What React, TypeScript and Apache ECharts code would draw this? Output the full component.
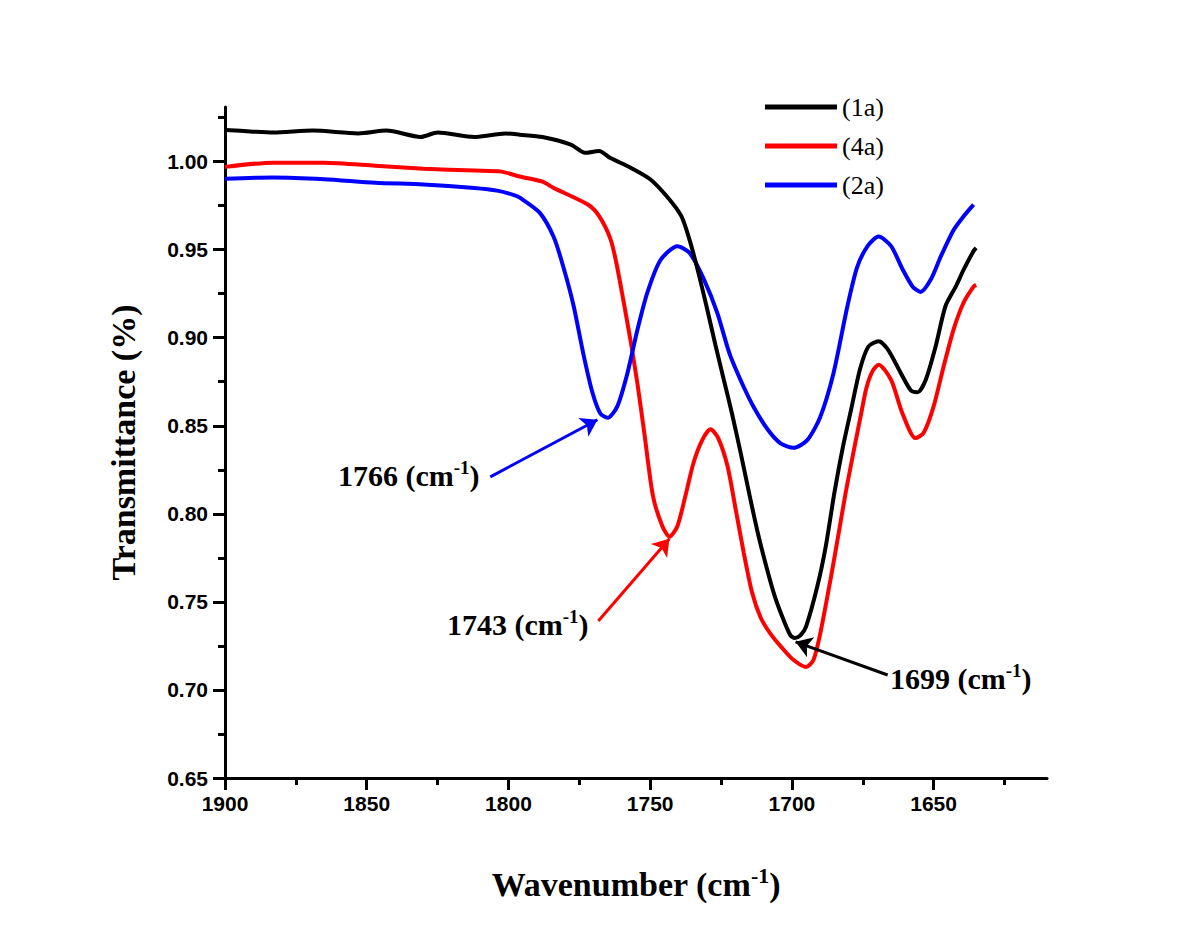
import React, { useEffect, useRef } from "react";
import * as echarts from "echarts";

// ---- Data (wavenumber in cm^-1, transmittance) ----
const wn1a = [1900, 1890, 1883, 1869, 1853, 1843, 1831, 1825, 1812, 1801, 1796, 1788, 1778, 1773, 1768, 1764, 1757, 1750, 1744, 1739, 1736, 1733, 1730, 1727, 1724, 1721, 1718, 1715, 1712, 1709, 1706, 1703, 1700.5, 1699, 1697, 1695, 1691, 1688, 1685, 1682, 1679, 1676, 1673, 1669.4, 1666, 1661.6, 1658, 1655.7, 1652.8, 1649.3, 1645.8, 1642.2, 1639.4, 1636, 1635];
const t1a = [1.018, 1.017, 1.0165, 1.0176, 1.016, 1.0176, 1.014, 1.0165, 1.014, 1.016, 1.0153, 1.014, 1.0097, 1.005, 1.006, 1.002, 0.9966, 0.99, 0.98, 0.969, 0.955, 0.937, 0.917, 0.896, 0.876, 0.856, 0.834, 0.811, 0.789, 0.77, 0.753, 0.74, 0.731, 0.7295, 0.731, 0.736, 0.759, 0.782, 0.812, 0.838, 0.86, 0.882, 0.895, 0.898, 0.893, 0.88, 0.87, 0.869, 0.876, 0.895, 0.918, 0.929, 0.9386, 0.949, 0.951];

const wn4a = [1900, 1883, 1865, 1847, 1830, 1812, 1802.5, 1796, 1788, 1784, 1772, 1768, 1764, 1762, 1759.5, 1757, 1754.5, 1752, 1749, 1745.7, 1743.2, 1740.4, 1737.6, 1734.7, 1731.6, 1728.7, 1726, 1722.7, 1720, 1717, 1714, 1711, 1707.6, 1703, 1699.4, 1695, 1692.4, 1690, 1686.4, 1683.5, 1681.1, 1678.6, 1675.8, 1673.7, 1671.5, 1669.4, 1665, 1661, 1656.4, 1653.5, 1650, 1646.5, 1643, 1639.4, 1635.9, 1635];
const t4a = [0.997, 0.9994, 0.9994, 0.9977, 0.996, 0.9949, 0.9943, 0.9915, 0.9886, 0.985, 0.9756, 0.969, 0.956, 0.943, 0.9216, 0.899, 0.874, 0.845, 0.81, 0.793, 0.787, 0.793, 0.81, 0.829, 0.842, 0.848, 0.843, 0.827, 0.804, 0.778, 0.755, 0.741, 0.732, 0.723, 0.717, 0.713, 0.717, 0.732, 0.7625, 0.789, 0.8114, 0.8324, 0.855, 0.8716, 0.8812, 0.8847, 0.876, 0.857, 0.843, 0.846, 0.861, 0.8835, 0.9045, 0.92, 0.929, 0.93];

const wn2a = [1900, 1883, 1865, 1847, 1830, 1812, 1804, 1798, 1796, 1789, 1784, 1780.6, 1777, 1773.6, 1770.4, 1767.6, 1765, 1761.6, 1758, 1754.5, 1751, 1746.4, 1740.4, 1736, 1731, 1726.3, 1722, 1717, 1713.6, 1708.6, 1704, 1699.4, 1694.5, 1690, 1685.3, 1680.4, 1677, 1673.3, 1669.4, 1665, 1661, 1657.4, 1654.6, 1651, 1647.5, 1643, 1639.4, 1635.9];
const t2a = [0.9903, 0.991, 0.99, 0.988, 0.987, 0.985, 0.9835, 0.981, 0.9795, 0.971, 0.957, 0.94, 0.918, 0.891, 0.869, 0.857, 0.8545, 0.861, 0.88, 0.9045, 0.9256, 0.944, 0.952, 0.948, 0.933, 0.914, 0.891, 0.872, 0.861, 0.848, 0.84, 0.8375, 0.842, 0.855, 0.88, 0.918, 0.94, 0.952, 0.9574, 0.952, 0.939, 0.929, 0.926, 0.933, 0.946, 0.961, 0.969, 0.9756];

const seriesNames = ["(1a)", "(4a)", "(2a)"];
const seriesColors = ["#000000", "#ff0000", "#0000ff"];

const xMajorTicks = [1900, 1850, 1800, 1750, 1700, 1650];
const xMinorTicks = [1875, 1825, 1775, 1725, 1675, 1625];
const yMajorTicks = [0.65, 0.7, 0.75, 0.8, 0.85, 0.9, 0.95, 1.0];
const yMinorTicks = [0.675, 0.725, 0.775, 0.825, 0.875, 0.925, 0.975, 1.025];

// annotation arrows: [start, end] in data coords
const arrow1a = [[1666.2, 0.7085], [1698.7, 0.7273]];
const arrow4a = [[1768.3, 0.7392], [1743.2, 0.7858]];
const arrow2a = [[1806.4, 0.821], [1768.6, 0.8534]];
const peakLabels = ["1699", "1743", "1766"];

const SERIF = "'Liberation Serif', 'Times New Roman', serif";
const SANS = "'Liberation Sans', Arial, sans-serif";

function pairs(w: number[], t: number[]) {
  return w.map((x, i) => [x, t[i]]);
}

function arrowLine(a: number[][], color: string) {
  return {
    silent: true,
    animation: false,
    symbol: ["none", "arrow"],
    symbolSize: 16,
    label: { show: false },
    emphasis: { disabled: true },
    lineStyle: { color, width: 3, type: "solid" },
    data: [[{ coord: a[0] }, { coord: a[1] }]],
  };
}

const richTitle = {
  a: { fontFamily: SERIF, fontWeight: "bold", fontSize: 34, color: "#000", lineHeight: 40 },
  s: { fontFamily: SERIF, fontWeight: "bold", fontSize: 22, color: "#000", verticalAlign: "top", lineHeight: 22 },
};
const richNote = {
  a: { fontFamily: SERIF, fontWeight: "bold", fontSize: 30, color: "#000", lineHeight: 34 },
  s: { fontFamily: SERIF, fontWeight: "bold", fontSize: 19, color: "#000", verticalAlign: "top", lineHeight: 19 },
};

function note(label: string, x: number, y: number) {
  return {
    type: "text",
    x,
    y,
    style: {
      text: `{a|${label} (cm}{s|-1}{a|)}`,
      rich: richNote,
      verticalAlign: "middle",
      align: "left",
    },
  };
}

export default function App() {
  const ref = useRef<HTMLDivElement>(null);
  useEffect(() => {
    if (!ref.current) return;
    const chart = echarts.init(ref.current, undefined, { renderer: "svg" });
    const xBase = {
      type: "value",
      inverse: true,
      min: 1610,
      max: 1900,
      splitLine: { show: false },
    };
    const yBase = {
      type: "value",
      min: 0.65,
      max: 1.031,
      splitLine: { show: false },
    };
    const seriesCommon = {
      type: "line",
      showSymbol: false,
      symbol: "none",
      smooth: 0.25,
    };
    chart.setOption({
      animation: false,
      backgroundColor: "#ffffff",
      grid: { left: 225, right: 153, top: 107, bottom: 151, containLabel: false },
      legend: {
        orient: "vertical",
        left: 760,
        top: 89,
        icon: "rect",
        itemWidth: 72,
        itemHeight: 5,
        itemGap: 13,
        textStyle: { fontFamily: SERIF, fontSize: 26, color: "#000", lineHeight: 26 },
        data: seriesNames,
      },
      xAxis: [
        {
          ...xBase,
          position: "bottom",
          name: "{a|Wavenumber (cm}{s|-1}{a|)}",
          nameLocation: "middle",
          nameGap: 86,
          nameTextStyle: { rich: richTitle },
          axisLine: { show: true, onZero: false, lineStyle: { color: "#000", width: 3 } },
          axisTick: { show: true, inside: false, length: 12, lineStyle: { color: "#000", width: 3 }, customValues: xMajorTicks },
          axisLabel: {
            show: true,
            margin: 15,
            customValues: xMajorTicks,
            formatter: (v: number) => String(v),
            fontFamily: SANS,
            fontWeight: "bold",
            fontSize: 21,
            color: "#000",
          },
        },
        {
          ...xBase,
          position: "bottom",
          axisLine: { show: false, onZero: false },
          axisTick: { show: true, inside: false, length: 7, lineStyle: { color: "#000", width: 3 }, customValues: xMinorTicks },
          axisLabel: { show: false },
        },
      ],
      yAxis: [
        {
          ...yBase,
          position: "left",
          name: "{a|Transmittance (%)}",
          nameLocation: "middle",
          nameRotate: 90,
          nameGap: 82,
          nameTextStyle: { rich: richTitle },
          axisLine: { show: true, onZero: false, lineStyle: { color: "#000", width: 3 } },
          axisTick: { show: true, inside: false, length: 12, lineStyle: { color: "#000", width: 3 }, customValues: yMajorTicks },
          axisLabel: {
            show: true,
            margin: 17,
            customValues: yMajorTicks,
            formatter: (v: number) => v.toFixed(2),
            fontFamily: SANS,
            fontWeight: "bold",
            fontSize: 21,
            color: "#000",
          },
        },
        {
          ...yBase,
          position: "left",
          axisLine: { show: false, onZero: false },
          axisTick: { show: true, inside: false, length: 7, lineStyle: { color: "#000", width: 3 }, customValues: yMinorTicks },
          axisLabel: { show: false },
        },
      ],
      series: [
        {
          ...seriesCommon,
          name: seriesNames[0],
          data: pairs(wn1a, t1a),
          color: seriesColors[0],
          lineStyle: { width: 4, color: seriesColors[0] },
          markLine: arrowLine(arrow1a, seriesColors[0]),
          z: 3,
        },
        {
          ...seriesCommon,
          name: seriesNames[1],
          data: pairs(wn4a, t4a),
          color: seriesColors[1],
          lineStyle: { width: 4, color: seriesColors[1] },
          markLine: arrowLine(arrow4a, seriesColors[1]),
          z: 2,
        },
        {
          ...seriesCommon,
          name: seriesNames[2],
          data: pairs(wn2a, t2a),
          color: seriesColors[2],
          lineStyle: { width: 4, color: seriesColors[2] },
          markLine: arrowLine(arrow2a, seriesColors[2]),
          z: 2,
        },
      ],
      graphic: [
        note(peakLabels[2], 338, 475),
        note(peakLabels[1], 447, 624),
        note(peakLabels[0], 890, 678),
      ],
    });
    return () => chart.dispose();
  }, []);
  return (
    <div
      ref={ref}
      style={{ position: "fixed", left: 0, top: 0, width: 1200, height: 929, background: "#fff" }}
    />
  );
}
